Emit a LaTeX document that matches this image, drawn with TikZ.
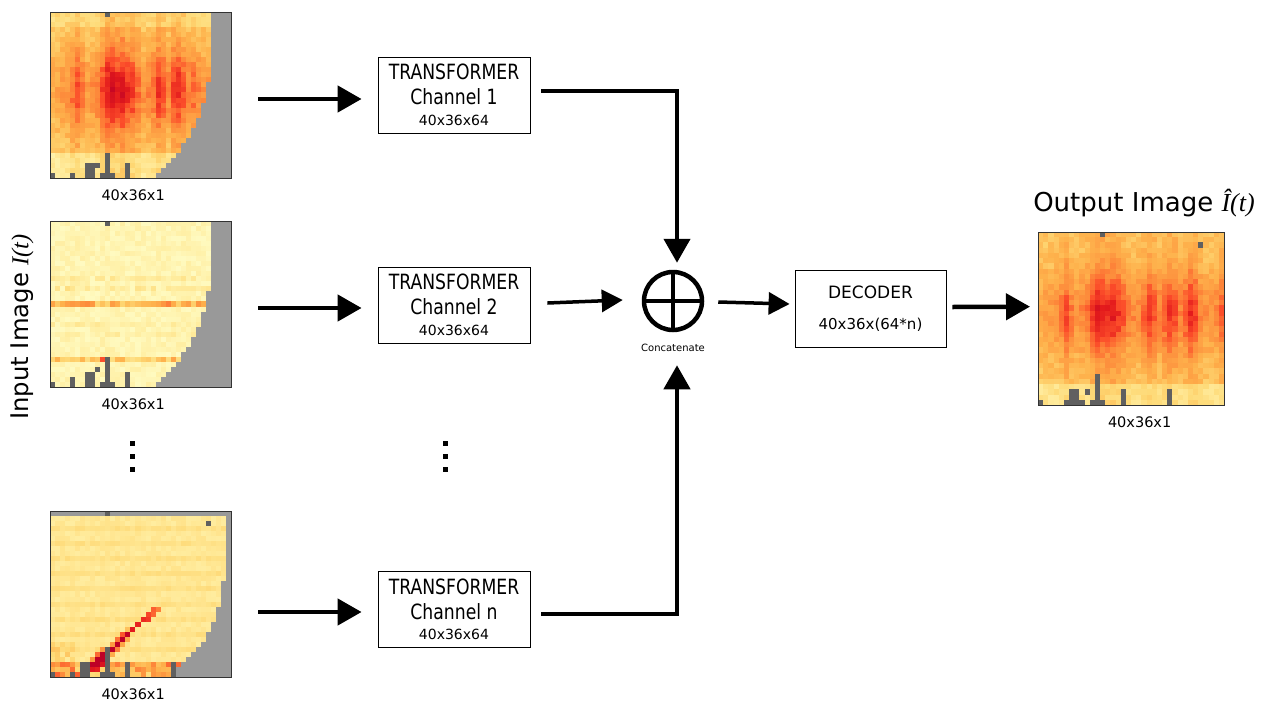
\documentclass[tikz,border=0pt]{standalone}
\usepackage{fontspec}
\setmainfont{DejaVu Sans}
\newfontfamily\narrowfont{DejaVu Sans}[FakeStretch=0.82]
\newfontfamily\mathitfont{Liberation Serif}
\usetikzlibrary{arrows.meta}
\usetikzlibrary{calc,positioning}

\definecolor{hm0}{RGB}{255,255,204}
\definecolor{hm1}{RGB}{255,237,160}
\definecolor{hm2}{RGB}{254,217,118}
\definecolor{hm3}{RGB}{254,178,76}
\definecolor{hm4}{RGB}{253,141,60}
\definecolor{hm5}{RGB}{252,78,42}
\definecolor{hm6}{RGB}{227,26,28}
\definecolor{hm7}{RGB}{189,0,38}
\definecolor{hmmask}{RGB}{153,153,153}
\definecolor{hmbar}{RGB}{96,96,96}

\tikzset{
  hmframe/.style={draw=black!80,line width=1.3pt,inner sep=0pt,anchor=north west},
  dimlabel/.style={font=\fontsize{14.5}{16}\selectfont},
  tfbox/.style={draw,line width=0.8pt,minimum width=152pt,minimum height=76pt,align=center,inner sep=0pt,
    font=\narrowfont\fontsize{21}{25}\selectfont},
  bigarrow/.style={line width=4.5pt,-{Triangle[length=24pt,width=26pt]}},
  midarrow/.style={line width=3.5pt,-{Triangle[length=21pt,width=22pt]}},
}

% carte de chaleur : nom, x, y, largeur, hauteur, valeur, masque, barres, points
\newcommand{\heatmap}[9]{%
  \begin{scope}[shift={(#2,#3)}]
    \pgfmathsetmacro\cw{#4/36}
    \pgfmathsetmacro\ch{#5/33}
    \foreach \i in {0,...,32}{
      \foreach \j in {0,...,35}{
        \pgfmathsetmacro\hx{(\j+0.5)/36}
        \pgfmathsetmacro\hy{(\i+0.5)/33}
        \pgfmathsetmacro\hv{max(0,min(6.99,#6))}
        \pgfmathtruncatemacro\hk{\hv}
        \pgfmathtruncatemacro\hkk{\hk+1}
        \pgfmathtruncatemacro\hp{100*(\hv-\hk)}
        \pgfmathtruncatemacro\hm{#7}
        \ifnum\hm>0 \def\hcol{hmmask}\else\edef\hcol{hm\hkk!\hp!hm\hk}\fi
        \fill[fill=\hcol] (\j*\cw,\i*\ch) rectangle ++(\cw+0.4,\ch+0.4);
      }
    }
    \foreach \j/\hh in {#8}
      \fill[hmbar] (\j*\cw,{(33-\hh)*\ch}) rectangle ++(\cw,{\hh*\ch});
    \foreach \j/\i in {#9}
      \fill[hmbar] (\j*\cw,\i*\ch) rectangle ++(\cw,\ch);
    \node[hmframe,minimum width=#4,minimum height=#5] (#1) at (0,0) {};
  \end{scope}
}

\begin{document}
\begin{tikzpicture}[x=1pt,y=-1pt]
  \fill[white] (0,0) rectangle (1263,707);
  \useasboundingbox (0,0) rectangle (1263,707);

  % Cartes de chaleur
  \pgfmathsetseed{11}
  \heatmap{img1}{50}{12}{181}{166}
    {1.4+0.9*rnd+{.3,.35,.4,.45,.6,.75,.55,.4,.45,.55,.75,.95,1,.9,1,.85,.8,.6,.45,.5,.6,.8,.7,.5,.75,.85,.7,.55,.6,.5,.45,.4,.4,.4,.4,.4}[\j]*(1.3+3.2*exp(-(abs(\hy-0.47)/0.24)^2))-1.1*(\hy>0.85)-0.5*(\hy<0.1)+(\i==28)*(\j==11)*3}
    {\hx>0.9-0.33*\hy^3}
    {0/1,4/1,7/3,8/3,10/1,11/5,12/1,15/3}{11/0,9/30}
  \pgfmathsetseed{22}
  \heatmap{img2}{50}{221}{181}{166}
    {0.25+0.7*rnd+(\i==16)*(1.4+2.0*rnd)+(\i==27)*(1.0+1.6*rnd)+(\i==13)*0.9*rnd+(\i==11)*0.7*rnd+(\i==20)*0.6*rnd+(\i==22)*0.5*rnd+(\i==27)*(\j==10)*3}
    {\hx>0.9-0.33*\hy^3}
    {0/1,4/2,7/3,8/3,10/1,11/6,12/1,15/3}{11/0,9/29}
  \pgfmathsetseed{33}
  \heatmap{img3}{50}{511}{181}{166}
    {1.0+0.5*rnd+0.4*(mod(\i,3)==0)+(abs(\i-(32.3-0.9*(\j-5.8)))<0.6)*(\j>4)*(\j<22)*(6.3-0.35*max(0,\j-12))+(abs(\i-(32.3-0.9*(\j-5.8)))<1.6)*(abs(\i-(32.3-0.9*(\j-5.8)))>=0.6)*(\j>3)*(\j<16)*(1.6+1.8*rnd)+(\i>29)*(\j<26)*(0.6+2.2*rnd)+(\i>25)*(\j<5)*1.2*rnd}
    {or(\i==0,\hx>0.97-0.33*\hy^4)}
    {0/1,4/1,6/3,7/3,10/1,11/6,12/1,15/3,24/3}{11/0,31/2}
  \pgfmathsetseed{44}
  \heatmap{out}{1038}{232}{186}{173}
    {1.6+0.8*rnd+{.35,.4,.4,.45,.55,.75,.55,.45,.5,.6,.8,1,.95,.9,.95,.85,.7,.55,.5,.5,.65,.85,.7,.55,.7,.85,.75,.55,.7,.9,.8,.55,.45,.45,.5,.65}[\j]*(1.1+3.0*exp(-(abs(\hy-0.47)/0.24)^2))-1.0*(\hy>0.88)}
    {0}
    {0/1,5/1,6/3,7/3,8/1,10/1,11/6,12/1,16/3,25/3}{12/0,31/2,9/30}

  \node[dimlabel,below=7pt of img1,xshift=-8pt] (dim1) {40x36x1};
  \node[dimlabel,below=7pt of img2,xshift=-8pt] (dim2) {40x36x1};
  \node[dimlabel,below=7pt of img3,xshift=-8pt] (dim3) {40x36x1};
  \node[dimlabel,below=7pt of out,xshift=8pt] (dimout) {40x36x1};

  \node[font=\fontsize{24.3}{24}\selectfont,rotate=90] (inlbl) at (22,327) {Input Image {\mathitfont\itshape I(t)}};
  \node[font=\fontsize{26}{26}\selectfont] (outlbl) at (1144,203) {Output Image {\mathitfont\itshape Î(t)}};

  % Blocs
  \node[tfbox] (tf1) at (454,95) {TRANSFORMER\\Channel 1\\[-4.5pt]{\normalfont\fontsize{14}{16}\selectfont 40x36x64}};
  \node[tfbox] (tf2) at (454,305) {TRANSFORMER\\Channel 2\\[-4.5pt]{\normalfont\fontsize{14}{16}\selectfont 40x36x64}};
  \node[tfbox] (tfn) at (454,609.5) {TRANSFORMER\\Channel n\\[-4.5pt]{\normalfont\fontsize{14}{16}\selectfont 40x36x64}};
  \node[tfbox,minimum width=151pt,minimum height=77pt,font=\fontsize{17}{21}\selectfont] (dec) at (870.5,308.5)
    {DECODER\\[10pt]{\fontsize{15}{16}\selectfont 40x36x(64*n)}};

  \node[circle,draw,line width=4.5pt,minimum size=58pt,inner sep=0pt] (cat) at (673,301) {};
  \draw[line width=4pt] (cat.north) -- (cat.south) (cat.west) -- (cat.east);
  \node[font=\fontsize{10}{10}\selectfont,below=8pt of cat] (catlbl) {Concatenate};

  % Points de suspension
  \foreach \k in {0,1,2}{
    \fill (129.5,441+13*\k) rectangle ++(5,5);
    \fill (442.5,441+13*\k) rectangle ++(5,5);
  }

  % Flèches
  \draw[bigarrow] ($(img1.east |- tf1.west)+(26,4)$) -- ($(tf1.west)+(-16,4)$);
  \draw[bigarrow] ($(img2.east |- tf2.west)+(26,3)$) -- ($(tf2.west)+(-16,3)$);
  \draw[bigarrow] ($(img3.east |- tfn.west)+(26,2.5)$) -- ($(tfn.west)+(-16,2.5)$);
  \draw[bigarrow] ($(tf1.east)+(11,-4)$) -| ($(cat.north)+(4,-7)$);
  \draw[bigarrow] ($(tfn.east)+(11,4.5)$) -| ($(cat.south)+(4,33)$);
  \draw[midarrow] ($(tf2.east)+(17,-2)$) -- ($(cat.west)+(-19,-1)$);
  \draw[midarrow] ($(cat.east)+(14,1)$) -- ($(dec.west)+(-5,-4.5)$);
  \draw[bigarrow] ($(dec.east)+(6,-1.5)$) -- ($(out.west)+(-8,-12.5)$);
\end{tikzpicture}
\end{document}
